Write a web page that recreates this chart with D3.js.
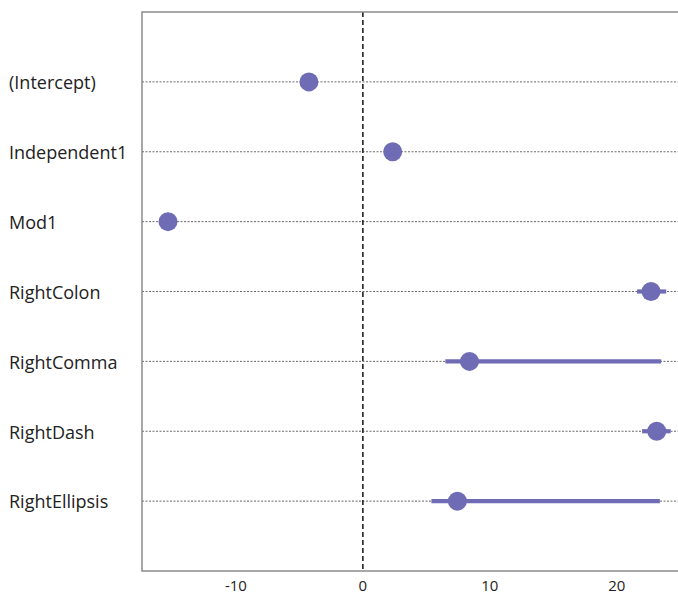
<!DOCTYPE html>
<html>
<head>
<script src="https://d3js.org/d3.v7.min.js"></script>
<style>
  body { margin: 0; background: #fff; font-family: "Open Sans", sans-serif; }
</style>
</head>
<body>
<div id="chart"></div>
<script>
// coefficient estimates and intervals
const terms = ["(Intercept)", "Independent1", "Mod1", "RightColon", "RightComma", "RightDash", "RightEllipsis"];
const estimates = [-4.25, 2.35, -15.35, 22.7, 8.4, 23.15, 7.45];
const lower = [null, null, null, 21.6, 6.5, 22.0, 5.4];
const upper = [null, null, null, 23.9, 23.5, 24.25, 23.4];
const xTicks = [-10, 0, 10, 20];

const W = 678, H = 594;
const margin = { top: 12, right: -6, bottom: 23, left: 142 };
const innerW = W - margin.left - margin.right;
const innerH = H - margin.top - margin.bottom;
const col = "#6f6bb4";

const svg = d3.select("#chart").append("svg")
  .attr("width", W).attr("height", H);
const g = svg.append("g").attr("transform", `translate(${margin.left},${margin.top})`);

const x = d3.scaleLinear().domain([-17.4, 25.3]).range([0, innerW]);
const y = d3.scalePoint().domain(terms).range([0, innerH]).padding(1);

// grid lines
g.selectAll(".grid").data(terms).enter().append("line")
  .attr("x1", 0).attr("x2", innerW)
  .attr("y1", d => y(d)).attr("y2", d => y(d))
  .attr("stroke", "#444").attr("stroke-width", 0.8)
  .attr("stroke-dasharray", "2,1.5");

// zero line
g.append("line")
  .attr("x1", x(0)).attr("x2", x(0))
  .attr("y1", 0).attr("y2", innerH)
  .attr("stroke", "#222").attr("stroke-width", 1.6)
  .attr("stroke-dasharray", "5,3");

// frame
g.append("path")
  .attr("d", `M${innerW},0H0V${innerH}H${innerW}`)
  .attr("fill", "none").attr("stroke", "#8a8a8a").attr("stroke-width", 1.5);

const rows = terms.map((t, i) => ({ t, est: estimates[i], lo: lower[i], hi: upper[i] }));

g.selectAll(".ci").data(rows.filter(d => d.lo != null)).enter().append("line")
  .attr("x1", d => x(d.lo)).attr("x2", d => x(d.hi))
  .attr("y1", d => y(d.t)).attr("y2", d => y(d.t))
  .attr("stroke", col).attr("stroke-width", 4.2);

g.selectAll(".pt").data(rows).enter().append("circle")
  .attr("cx", d => x(d.est)).attr("cy", d => y(d.t))
  .attr("r", 9.5).attr("fill", col);

// y labels
svg.selectAll(".ylab").data(terms).enter().append("text")
  .attr("x", 9).attr("y", d => margin.top + y(d) + 1)
  .attr("dy", "0.35em")
  .style("font-size", "18px").style("fill", "#222")
  .text(d => d);

// x tick labels
svg.selectAll(".xlab").data(xTicks).enter().append("text")
  .attr("x", d => margin.left + x(d)).attr("y", margin.top + innerH + 20)
  .attr("text-anchor", "middle")
  .style("font-size", "15px").style("fill", "#222")
  .text(d => d);
</script>
</body>
</html>
